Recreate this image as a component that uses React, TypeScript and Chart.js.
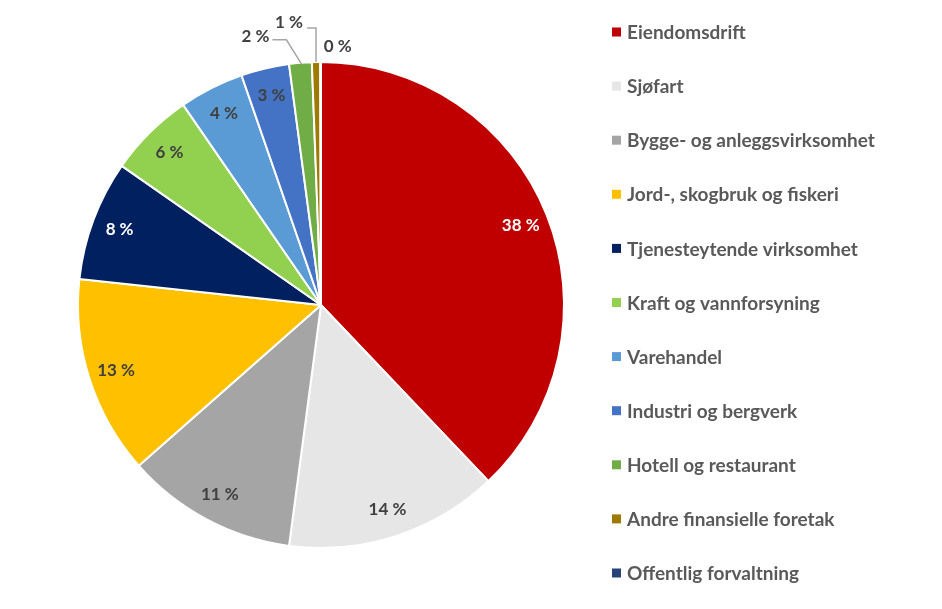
import React, { useEffect, useRef } from "react";
import { Chart, registerables } from "chart.js";

Chart.register(...registerables);

const categories = [
  "Eiendomsdrift",
  "Sjøfart",
  "Bygge- og anleggsvirksomhet",
  "Jord-, skogbruk og fiskeri",
  "Tjenesteytende virksomhet",
  "Kraft og vannforsyning",
  "Varehandel",
  "Industri og bergverk",
  "Hotell og restaurant",
  "Andre finansielle foretak",
  "Offentlig forvaltning",
];

const shares = [37.9, 14.2, 11.4, 13.2, 8.0, 5.7, 4.3, 3.2, 1.5, 0.55, 0.05];

const colors = [
  "#C00000",
  "#E7E6E6",
  "#A5A5A5",
  "#FFC000",
  "#002060",
  "#92D050",
  "#5B9BD5",
  "#4472C4",
  "#70AD47",
  "#9E7A00",
  "#264478",
];

const labelColors = [
  "#FFFFFF",
  "#404040",
  "#404040",
  "#404040",
  "#FFFFFF",
  "#404040",
  "#404040",
  "#404040",
  "#404040",
  "#404040",
  "#404040",
];

const FONT = "Lato, 'Open Sans', sans-serif";

const labelsPlugin = {
  id: "sliceLabels",
  afterDatasetsDraw(chart: any) {
    const ctx = chart.ctx;
    const meta = chart.getDatasetMeta(0);
    ctx.save();
    ctx.font = `bold 17px ${FONT}`;
    ctx.textAlign = "center";
    ctx.textBaseline = "middle";
    meta.data.forEach((arc: any, i: number) => {
      const { x, y, startAngle, endAngle, outerRadius } = arc.getProps(
        ["x", "y", "startAngle", "endAngle", "outerRadius"],
        true
      );
      const mid = (startAngle + endAngle) / 2;
      const text = `${Math.round(shares[i])} %`;
      if (i < 8) {
        const r = outerRadius * 0.885;
        ctx.fillStyle = labelColors[i];
        ctx.fillText(text, x + Math.cos(mid) * r, y + Math.sin(mid) * r);
      } else {
        const ax = x + Math.cos(mid) * outerRadius;
        const ay = y + Math.sin(mid) * outerRadius;
        ctx.fillStyle = "#404040";
        ctx.strokeStyle = "#A6A6A6";
        ctx.lineWidth = 1.5;
        if (i === 8) {
          ctx.beginPath();
          ctx.moveTo(ax + 1, ay + 1);
          ctx.lineTo(ax - 14, ay - 23);
          ctx.lineTo(ax - 28, ay - 23);
          ctx.stroke();
          ctx.fillText(text, ax - 45, ay - 26);
        } else if (i === 9) {
          ctx.beginPath();
          ctx.moveTo(ax, ay);
          ctx.lineTo(ax, ay - 34);
          ctx.lineTo(ax - 9, ay - 34);
          ctx.stroke();
          ctx.fillText(text, ax - 27, ay - 40);
        } else {
          ctx.fillText(text, ax + 17, ay - 15);
        }
      }
    });
    ctx.restore();
  },
};

const legendPlugin = {
  id: "sideLegend",
  afterDraw(chart: any) {
    const ctx = chart.ctx;
    ctx.save();
    ctx.font = `bold 19px ${FONT}`;
    ctx.textAlign = "left";
    ctx.textBaseline = "middle";
    categories.forEach((name, i) => {
      const cy = 32 + i * 54.1;
      ctx.fillStyle = colors[i];
      ctx.fillRect(612, cy - 4.5, 9, 9);
      ctx.fillStyle = "#595959";
      ctx.fillText(name, 627, cy + 1);
    });
    ctx.restore();
  },
};

export default function App() {
  const ref = useRef<HTMLCanvasElement | null>(null);
  useEffect(() => {
    if (!ref.current) return;
    const chart = new Chart(ref.current, {
      type: "pie",
      data: {
        labels: categories,
        datasets: [
          {
            data: shares,
            backgroundColor: colors,
            borderColor: "#FFFFFF",
            borderWidth: 2,
          },
        ],
      },
      options: {
        responsive: false,
        animation: false,
        layout: { padding: { left: 77, right: 377, top: 61, bottom: 60 } },
        plugins: {
          legend: { display: false },
          tooltip: { enabled: false },
        },
      },
      plugins: [labelsPlugin, legendPlugin],
    });
    return () => chart.destroy();
  }, []);
  return (
    <div style={{ position: "absolute", left: 0, top: 0, width: 942, height: 609, background: "#fff" }}>
      <canvas ref={ref} width={942} height={609} style={{ display: "block" }} />
    </div>
  );
}
